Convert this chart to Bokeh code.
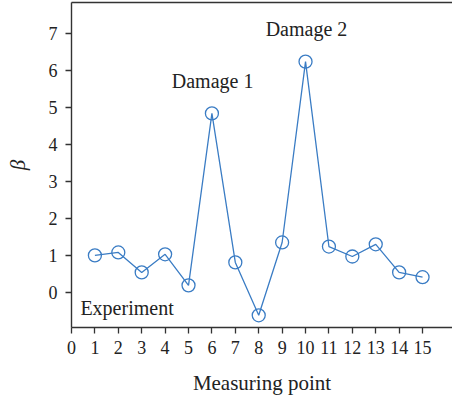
from bokeh.plotting import figure
from bokeh.models import LinearAxis, Range1d, FixedTicker, Label
from bokeh.embed import file_html
from bokeh.resources import INLINE

points = list(range(1, 16))
beta = [1.00, 1.08, 0.54, 1.03, 0.19, 4.84, 0.81, -0.62, 1.35, 6.24,
        1.24, 0.97, 1.30, 0.54, 0.41]
x_ticks = list(range(0, 16))
y_ticks = list(range(0, 8))

FONT = "Liberation Serif"
BLUE = "#3a7cc4"
AX = "#333333"

p = figure(width=452, height=409, output_backend="svg", toolbar_location=None,
           x_range=Range1d(0, 16.28), y_range=Range1d(-0.95, 7.84),
           min_border_left=71, min_border_right=0, min_border_top=2,
           min_border_bottom=82, x_axis_location=None, y_axis_location=None)
p.outline_line_color = None
p.grid.visible = False
p.background_fill_color = "white"
p.border_fill_color = "white"

def style(ax):
    ax.axis_line_color = AX
    ax.axis_line_width = 1.4
    ax.major_tick_line_color = AX
    ax.major_tick_line_width = 1.3
    ax.major_tick_out = 6
    ax.major_tick_in = 0
    ax.minor_tick_line_color = None
    ax.major_label_text_font = FONT
    ax.major_label_text_font_size = "18px"
    ax.major_label_text_color = "#222222"
    ax.axis_label_text_font = FONT
    ax.axis_label_text_font_size = "21px"
    ax.axis_label_text_font_style = "normal"
    ax.axis_label_text_color = "#222222"

xa = LinearAxis(ticker=FixedTicker(ticks=x_ticks), axis_label="Measuring point")
style(xa)
xa.major_label_standoff = 7
xa.axis_label_standoff = 14
p.add_layout(xa, "below")

ya = LinearAxis(ticker=FixedTicker(ticks=y_ticks), axis_label="β")
style(ya)
ya.major_label_standoff = 8
ya.axis_label_text_font_style = "italic"
ya.axis_label_standoff = 16
p.add_layout(ya, "left")

top = LinearAxis(ticker=FixedTicker(ticks=[]), major_label_text_font_size="0px")
top.axis_line_color = AX
top.axis_line_width = 1.4
top.major_tick_line_color = None
top.minor_tick_line_color = None
p.add_layout(top, "above")

p.line(points, beta, line_color=BLUE, line_width=1.3)
p.scatter(points, beta, size=13, marker="circle", fill_color=None,
          line_color=BLUE, line_width=1.3)

for txt, x, y, align in [("Damage 1", 6.03, 5.73, "center"),
                         ("Damage 2", 10.04, 7.13, "center"),
                         ("Experiment", 0.38, -0.41, "left")]:
    p.add_layout(Label(x=x, y=y, text=txt, text_font=FONT,
                       text_font_size="20px", text_color="#222222",
                       text_align=align, text_baseline="middle"))

open("out.html", "w").write(file_html(p, INLINE))
